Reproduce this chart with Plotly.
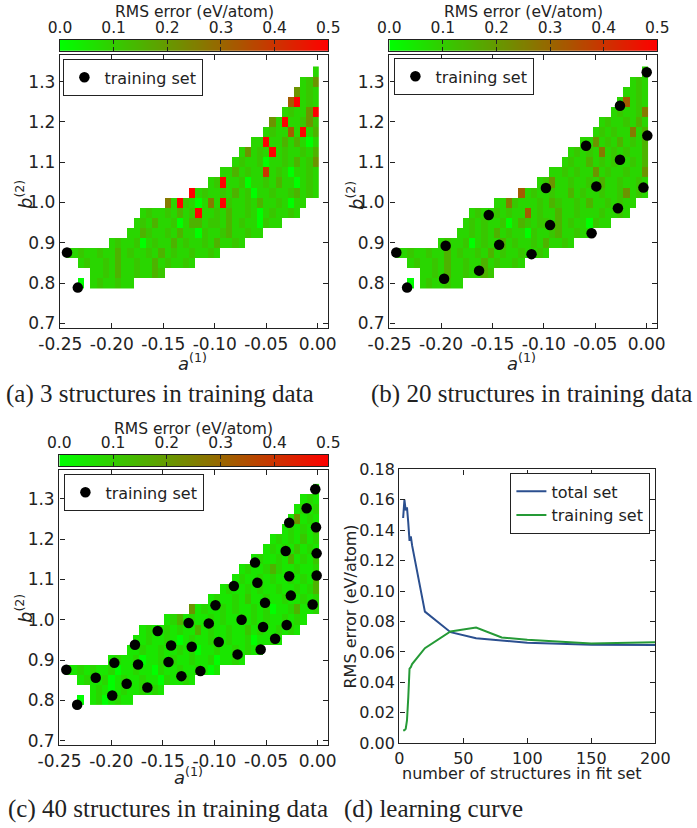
import plotly.graph_objects as go

W, H = 697, 828

# ---------------------------------------------------------------------------
# Error maps over the (a1, b2) parameter plane
# ---------------------------------------------------------------------------
N_COLS = 41
A_CENTRES = [round(-0.2417 + 0.006 * c, 4) for c in range(N_COLS)]   # cell centres in a(1)
B_CENTRES = [round(0.800 + 0.025 * j, 4) for j in range(22)]         # cell centres in b(2)

# first occupied column of every row, counted from the right-hand edge (bottom row first)
ROW_START = [30, 25, 20, 16, 12, 9, 6, 3, 2, 0, 0, 0, 0, 0, 0, 0, 0, 0, 0, 0, 0, 0]

# error level codes -> RMS error (eV/atom)
LEVELS = {"0": 0.0, "1": 0.05, "2": 0.08, "3": 0.11, "4": 0.15,
          "5": 0.21, "6": 0.26, "7": 0.32, "8": 0.40, "9": 0.52}

# one string per row (bottom row first), written left to right, '.' = no structure
ERR_3 = [
    "0.2322322",
    "223242232243",
    "2322324223224232232",
    "2232232242322324232232232",
    "2322302322423223242232",
    "2243223242203223422322",
    "232422302442332423220322",
    "23223242392232422320232232",
    "62932026293223242232022",
    "923223242302232234232",
    "239223022324220232",
    "2242322823202232",
    "23223022324235",
    "2523292322324",
    "22922424202",
    "232272924",
    "52922353",
    "232259",
    "79232",
    "5232",
    "235",
    "2",
]

ERR_20 = [
    "0.2322322",
    "223242232243",
    "2322324223224232232",
    "2232232242322324232232232",
    "2322302322423223242232",
    "2232324232203223422322",
    "232322302432332423220322",
    "23223232272322422322232232",
    "22632223243223242232322",
    "723223224232232235232",
    "235223223242232232",
    "2232322523223225",
    "23224232322324",
    "2323262323224",
    "22523242324",
    "232322624",
    "23223242",
    "232236",
    "27232",
    "2232",
    "232",
    "2",
]

ERR_40 = [
    "0.1201211",
    "121012112121",
    "1211201211211021121",
    "1121211201121102112112101",
    "1211201121211211201121",
    "1121121121201121121211",
    "112112101211211211201121",
    "12112121141211211312112121",
    "12412112121121212112121",
    "512112121121201124112",
    "121121311211211212",
    "1211212112112124",
    "12112121121214",
    "1211242112112",
    "12112141213",
    "121213121",
    "12121312",
    "121213",
    "15121",
    "1212",
    "121",
    "1",
]

# training structures shown on each map
TRAIN_3_A = [-0.2435, -0.2330]
TRAIN_3_B = [0.876, 0.789]

TRAIN_20_A = [0.0000, -0.0260, 0.0006, -0.0590, -0.0260, -0.0490, -0.0980, -0.0032,
              -0.0280, -0.1536, -0.0940, -0.0536, -0.1435, -0.1955, -0.1120, -0.2435,
              -0.1630, -0.1970, -0.2330]
TRAIN_20_B = [1.323, 1.240, 1.166, 1.141, 1.106, 1.040, 1.036, 1.037,
              0.986, 0.969, 0.944, 0.924, 0.895, 0.893, 0.872, 0.876,
              0.831, 0.811, 0.789]

TRAIN_40_A = [-0.0023, -0.0107, -0.0276, -0.0016, -0.0310, -0.0010, -0.0607, -0.0276,
              -0.0010, -0.0584, -0.0812, -0.0260, -0.0510, -0.0049, -0.0990, -0.0737,
              -0.1250, -0.1055, -0.0529, -0.0300, -0.1550, -0.0412, -0.1770, -0.1420,
              -0.1220, -0.0958, -0.0776, -0.0552, -0.1970, -0.1740, -0.1445, -0.2435,
              -0.2150, -0.1320, -0.1136, -0.1850, -0.1650, -0.1990, -0.2330]
TRAIN_40_B = [1.324, 1.277, 1.241, 1.230, 1.171, 1.165, 1.142, 1.108,
              1.110, 1.092, 1.084, 1.060, 1.042, 1.038, 1.036, 1.000,
              0.992, 0.991, 0.982, 0.987, 0.972, 0.953, 0.938, 0.936,
              0.933, 0.945, 0.914, 0.926, 0.893, 0.889, 0.895, 0.876,
              0.856, 0.860, 0.873, 0.841, 0.832, 0.812, 0.789]

# ---------------------------------------------------------------------------
# Learning curve
# ---------------------------------------------------------------------------
N_FIT = [3, 4, 5, 6, 7, 8, 9, 10, 20, 40, 60, 80, 100, 150, 200]
RMS_TOTAL = [0.148, 0.160, 0.153, 0.155, 0.145, 0.133, 0.136, 0.130,
             0.0865, 0.0730, 0.0690, 0.0675, 0.0660, 0.0648, 0.0645]
RMS_TRAIN = [0.0085, 0.0085, 0.0095, 0.0150, 0.0300, 0.0490, 0.0500, 0.0520,
             0.0625, 0.0735, 0.0760, 0.0695, 0.0680, 0.0656, 0.0664]

# axis ticks
A_TICKS = [-0.25, -0.20, -0.15, -0.10, -0.05, 0.00]
B_TICKS = [0.7, 0.8, 0.9, 1.0, 1.1, 1.2, 1.3]
CBAR_TICKS = [0.0, 0.1, 0.2, 0.3, 0.4, 0.5]
N_TICKS = [0, 50, 100, 150, 200]
RMS_TICKS = [0.00, 0.02, 0.04, 0.06, 0.08, 0.10, 0.12, 0.14, 0.16, 0.18]
CBAR_LIMITS = [0.0, 0.5]

CMAP = [[0.0, "rgb(0,255,0)"], [1.0, "rgb(255,0,0)"]]
INK = "#222222"
BLUE = "#2b4f8f"
GREEN = "#259a36"


def decode(rows):
    z = [[None] * N_COLS for _ in B_CENTRES]
    for j, (row, k0) in enumerate(zip(rows, ROW_START)):
        n = len(row)
        for i, ch in enumerate(row):
            if ch == ".":
                continue
            k = k0 + n - 1 - i
            z[j][N_COLS - 1 - k] = LEVELS[ch]
    return z


for rows in (ERR_3, ERR_20, ERR_40):
    assert [len(r) for r in rows] == [len(r) for r in ERR_3]


def dom_x(left, right):
    return [left / W, right / W]


def dom_y(top, bottom):
    return [1 - bottom / H, 1 - top / H]


fig = go.Figure()

panels = [
    ("", ERR_3, TRAIN_3_A, TRAIN_3_B, "legend"),
    ("2", ERR_20, TRAIN_20_A, TRAIN_20_B, "legend2"),
    ("3", ERR_40, TRAIN_40_A, TRAIN_40_B, "legend3"),
]
for suffix, rows, pa, pb, leg in panels:
    fig.add_trace(go.Heatmap(
        x=A_CENTRES, y=B_CENTRES, z=decode(rows),
        colorscale=CMAP, zmin=0, zmax=0.5, showscale=False,
        xaxis="x" + suffix, yaxis="y" + suffix, hoverinfo="skip"))
    fig.add_trace(go.Scatter(
        x=pa, y=pb, mode="markers", name="training set",
        marker=dict(color="black", size=10.5, line=dict(width=0)),
        xaxis="x" + suffix, yaxis="y" + suffix, legend=leg))

# colour bars drawn as small gradient maps
for suffix in ("5", "6", "7"):
    fig.add_trace(go.Heatmap(
        x=CBAR_LIMITS, y=[0, 1], z=[CBAR_LIMITS, CBAR_LIMITS], zsmooth="best",
        colorscale=CMAP, zmin=0, zmax=0.5, showscale=False,
        xaxis="x" + suffix, yaxis="y" + suffix, hoverinfo="skip"))

fig.add_trace(go.Scatter(x=N_FIT, y=RMS_TOTAL, mode="lines", name="total set",
                         line=dict(color=BLUE, width=2),
                         xaxis="x4", yaxis="y4", legend="legend4"))
fig.add_trace(go.Scatter(x=N_FIT, y=RMS_TRAIN, mode="lines", name="training set",
                         line=dict(color=GREEN, width=2),
                         xaxis="x4", yaxis="y4", legend="legend4"))

frame = dict(showline=True, linecolor=INK, linewidth=1.4, mirror="ticks",
             ticks="inside", ticklen=5, tickwidth=1, tickcolor=INK,
             showgrid=False, zeroline=False, automargin=False,
             tickfont=dict(size=17, color=INK))

map_frames = {
    "": (60, 328.3, 55, 328.3, [0.688, 1.366]),
    "2": (389.3, 657.3, 55, 328.3, [0.688, 1.366]),
    "3": (59.3, 328.3, 470, 745, [0.689, 1.372]),
}
layout = {}
for suffix, (l, r, t, b, yr) in map_frames.items():
    layout["xaxis" + suffix] = dict(
        frame, domain=dom_x(l, r), range=[-0.2503, 0.0103], anchor="y" + suffix,
        tickvals=A_TICKS, ticktext=[f"{v:.2f}" for v in A_TICKS])
    layout["yaxis" + suffix] = dict(
        frame, domain=dom_y(t, b), range=yr, anchor="x" + suffix,
        tickvals=B_TICKS, ticktext=[f"{v:.1f}" for v in B_TICKS])

layout["xaxis4"] = dict(frame, domain=dom_x(399.3, 655.3), range=[0, 200], anchor="y4",
                        tickvals=N_TICKS, ticktext=[str(v) for v in N_TICKS],
                        tickfont=dict(size=16, color=INK))
layout["yaxis4"] = dict(frame, domain=dom_y(469.3, 743.3), range=[0, 0.18], anchor="x4",
                        tickvals=RMS_TICKS, ticktext=[f"{v:.2f}" for v in RMS_TICKS],
                        tickfont=dict(size=16, color=INK))

cbar_frames = {
    "5": (60, 328.3, 40, 50.7),
    "6": (389.3, 657.3, 40, 50.7),
    "7": (59.3, 328.3, 455, 466),
}
for suffix, (l, r, t, b) in cbar_frames.items():
    layout["xaxis" + suffix] = dict(
        frame, domain=dom_x(l, r), range=CBAR_LIMITS, anchor="y" + suffix, side="top",
        ticklen=4, tickvals=CBAR_TICKS, ticktext=[f"{v:.1f}" for v in CBAR_TICKS],
        tickfont=dict(size=15.5, color=INK))
    layout["yaxis" + suffix] = dict(
        domain=dom_y(t, b), range=[0, 1], anchor="x" + suffix,
        showline=True, linecolor=INK, linewidth=1.4, mirror=True, automargin=False,
        ticks="", showticklabels=False, showgrid=False, zeroline=False)

legend_style = dict(xanchor="left", yanchor="top", bgcolor="white", bordercolor=INK,
                    borderwidth=1.4, font=dict(size=16, color=INK), itemwidth=30,
                    tracegroupgap=0)
layout["legend"] = dict(legend_style, x=63 / W, y=1 - 59 / H)
layout["legend2"] = dict(legend_style, x=394 / W, y=1 - 58 / H)
layout["legend3"] = dict(legend_style, x=64 / W, y=1 - 474 / H)
layout["legend4"] = dict(legend_style, x=650 / W, y=1 - 473 / H, xanchor="right")

annotations = []


def note(text, x, y, size=15, angle=0, family="DejaVu Sans", xanchor="center"):
    annotations.append(dict(text=text, x=x / W, y=1 - y / H, xref="paper", yref="paper",
                            showarrow=False, textangle=angle, xanchor=xanchor,
                            yanchor="middle",
                            font=dict(size=size, family=family, color=INK)))


for cx, cy in ((194, 12.5), (523.3, 12.5), (193.8, 428.5)):
    note("RMS error (eV/atom)", cx, cy, size=15.5)

for cx, cy in ((24, 195), (355, 195), (24, 609)):
    note("<i>b</i><sup>(2)</sup>", cx, cy, size=18, angle=-90)
for cx, cy in ((192, 362), (521, 362), (188, 775.5)):
    note("<i>a</i><sup>(1)</sup>", cx, cy, size=18)

note("RMS error (eV/atom)", 350, 606.5, size=16, angle=-90)
note("number of structures in fit set", 522, 773, size=16)

serif = "Liberation Serif"
note("(a) 3 structures in training data", 4, 394, size=25, family=serif, xanchor="left")
note("(b) 20 structures in training data", 369, 394, size=25, family=serif, xanchor="left")
note("(c) 40 structures in training data", 6, 809, size=25, family=serif, xanchor="left")
note("(d) learning curve", 342, 809, size=25, family=serif, xanchor="left")

fig.update_layout(
    template="none",
    width=W, height=H, margin=dict(l=0, r=0, t=0, b=0, pad=0, autoexpand=False),
    paper_bgcolor="white", plot_bgcolor="white",
    font=dict(family="DejaVu Sans", color=INK),
    showlegend=True, annotations=annotations, **layout)

fig.write_html("out.html")
